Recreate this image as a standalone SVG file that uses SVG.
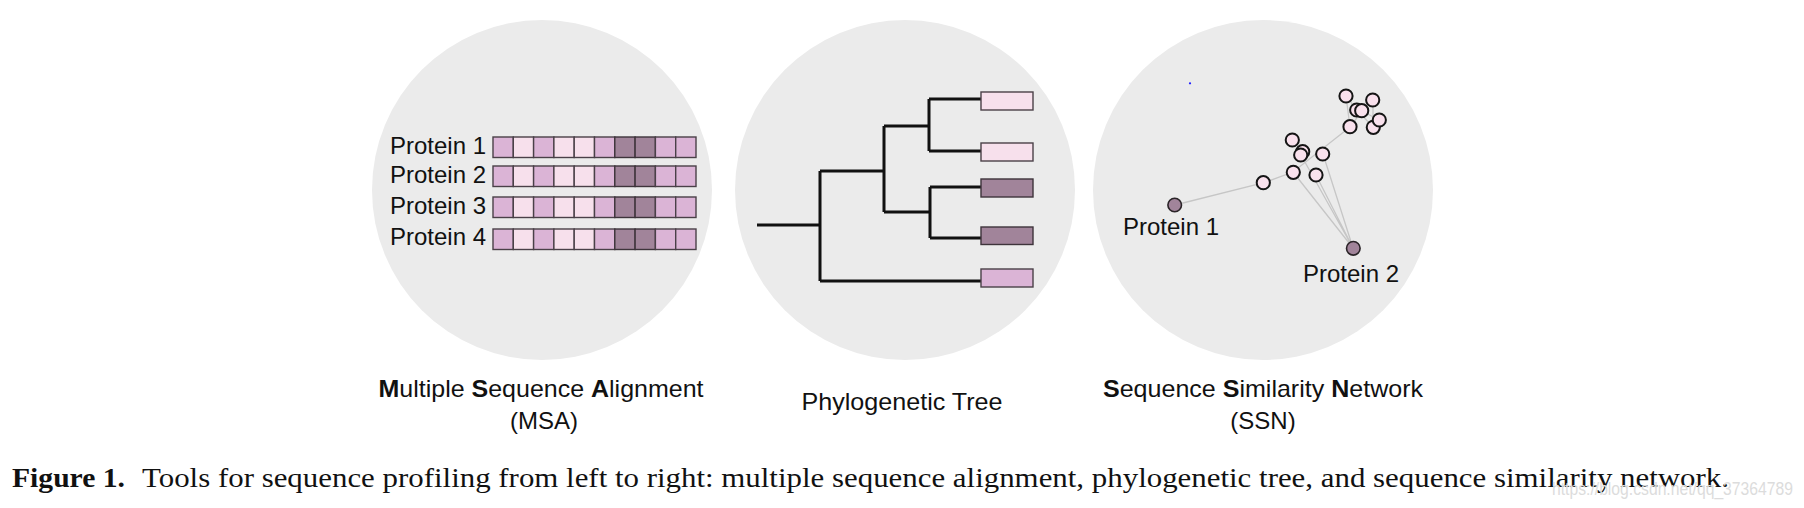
<svg xmlns="http://www.w3.org/2000/svg" width="1804" height="508" viewBox="0 0 1804 508">
<style>
.bg{fill:#ebebeb}
.lbl{font-family:"Liberation Sans",Arial,sans-serif;font-size:24px;fill:#111}
.b{font-weight:bold}
.cap{font-family:"Liberation Serif","Times New Roman",serif;font-size:27px;fill:#111}
.m{fill:#dbb4d6;stroke:#4a4048;stroke-width:1.4}
.l{fill:#f7e0ec;stroke:#4a4048;stroke-width:1.4}
.d{fill:#a1849a;stroke:#3e343b;stroke-width:1.4}
.tree{fill:none;stroke:#111;stroke-width:3;stroke-linejoin:miter}
.edge{stroke:#c6c6c6;stroke-width:1.3;fill:none}
.pn{fill:#f9e1ed;stroke:#151515;stroke-width:2}
.dn{fill:#a1849a;stroke:#2a2428;stroke-width:1.6}
</style>
<defs>
<g id="row">
<rect class="m" x="0" y="0" width="20.3" height="20.5"/>
<rect class="l" x="20.3" y="0" width="20.3" height="20.5"/>
<rect class="m" x="40.6" y="0" width="20.3" height="20.5"/>
<rect class="l" x="60.9" y="0" width="20.3" height="20.5"/>
<rect class="l" x="81.2" y="0" width="20.3" height="20.5"/>
<rect class="m" x="101.5" y="0" width="20.3" height="20.5"/>
<rect class="d" x="121.8" y="0" width="20.3" height="20.5"/>
<rect class="d" x="142.1" y="0" width="20.3" height="20.5"/>
<rect class="m" x="162.4" y="0" width="20.3" height="20.5"/>
<rect class="m" x="182.7" y="0" width="20.3" height="20.5"/>
</g>
</defs>
<rect width="1804" height="508" fill="#fff"/>

<g id="msa">
<circle class="bg" cx="542" cy="190" r="170"/>
<text class="lbl" x="390" y="154">Protein 1</text>
<text class="lbl" x="390" y="183">Protein 2</text>
<text class="lbl" x="390" y="214">Protein 3</text>
<text class="lbl" x="390" y="245">Protein 4</text>
<use href="#row" x="493" y="137"/>
<use href="#row" x="493" y="166"/>
<use href="#row" x="493" y="197"/>
<use href="#row" x="493" y="229"/>
<text class="lbl" x="541" y="397" text-anchor="middle" textLength="325" lengthAdjust="spacingAndGlyphs"><tspan class="b">M</tspan>ultiple <tspan class="b">S</tspan>equence <tspan class="b">A</tspan>lignment</text>
<text class="lbl" x="544" y="429" text-anchor="middle">(MSA)</text>
</g>

<g id="tree">
<circle class="bg" cx="905" cy="190" r="170"/>
<g id="tree-branches">
<path class="tree" d="M757 225H820M820 171V281M820 171H884M884 126V212M884 126H929M929 99V151M929 99H981M929 151H981M884 212H930M930 187V238M930 187H981M930 238H981M820 281H981"/>
</g>
<rect class="l" x="981" y="92" width="52" height="18"/>
<rect class="l" x="981" y="143" width="52" height="18"/>
<rect class="d" x="981" y="179" width="52" height="18"/>
<rect class="d" x="981" y="227" width="52" height="17.5"/>
<rect class="m" x="981" y="269" width="52" height="18"/>
<text class="lbl" x="902" y="410" text-anchor="middle" textLength="201" lengthAdjust="spacingAndGlyphs">Phylogenetic Tree</text>
</g>

<g id="ssn">
<circle class="bg" cx="1263" cy="190" r="170"/>
<g id="ssn-edges">
<path class="edge" d="M1175 205L1263 183L1293 172L1350 127M1353 248L1293 172M1353 248L1316 175M1353 248L1323 154M1353 248L1301 155M1346 96L1357 110L1373 100M1350 127L1362 111L1379 120M1373 127L1357 110M1346 96L1350 127M1373 100L1373 127"/>
</g>
<circle class="pn" cx="1263.3" cy="182.7" r="6.6"/>
<circle class="pn" cx="1293.3" cy="172.3" r="6.6"/>
<circle class="pn" cx="1316" cy="175" r="6.6"/>
<circle class="pn" cx="1322.7" cy="154" r="6.6"/>
<circle class="pn" cx="1292.3" cy="140" r="6.6"/>
<circle class="pn" cx="1302.7" cy="151.7" r="6.6"/>
<circle class="pn" cx="1300.7" cy="155" r="6.6"/>
<circle class="pn" cx="1346" cy="96" r="6.6"/>
<circle class="pn" cx="1372.7" cy="100" r="6.6"/>
<circle class="pn" cx="1356.7" cy="110" r="6.6"/>
<circle class="pn" cx="1373.3" cy="127.3" r="6.6"/>
<circle class="pn" cx="1379.3" cy="120" r="6.6"/>
<circle class="pn" cx="1361.7" cy="110.7" r="6.6"/>
<circle class="pn" cx="1350" cy="126.7" r="6.6"/>
<circle class="dn" cx="1174.7" cy="205" r="6.8"/>
<circle class="dn" cx="1353.3" cy="248.3" r="6.8"/>
<circle cx="1190" cy="83.3" r="1.1" fill="#1a1aff"/>
<text class="lbl" x="1123" y="235">Protein 1</text>
<text class="lbl" x="1303" y="282">Protein 2</text>
<text class="lbl" x="1263" y="397" text-anchor="middle" textLength="320" lengthAdjust="spacingAndGlyphs"><tspan class="b">S</tspan>equence <tspan class="b">S</tspan>imilarity <tspan class="b">N</tspan>etwork</text>
<text class="lbl" x="1263" y="429" text-anchor="middle">(SSN)</text>
</g>

<g id="caption">
<text class="cap" x="12" y="487" font-weight="bold" textLength="113" lengthAdjust="spacingAndGlyphs">Figure 1.</text>
<text class="cap" x="142" y="487" textLength="1587" lengthAdjust="spacingAndGlyphs">Tools for sequence profiling from left to right: multiple sequence alignment, phylogenetic tree, and sequence similarity network.</text>
<text x="1552" y="495" font-family="'Liberation Sans',Arial,sans-serif" font-size="18" fill="#dcdcdc" textLength="241" lengthAdjust="spacingAndGlyphs">https://blog.csdn.net/qq_37364789</text>
</g>
</svg>
